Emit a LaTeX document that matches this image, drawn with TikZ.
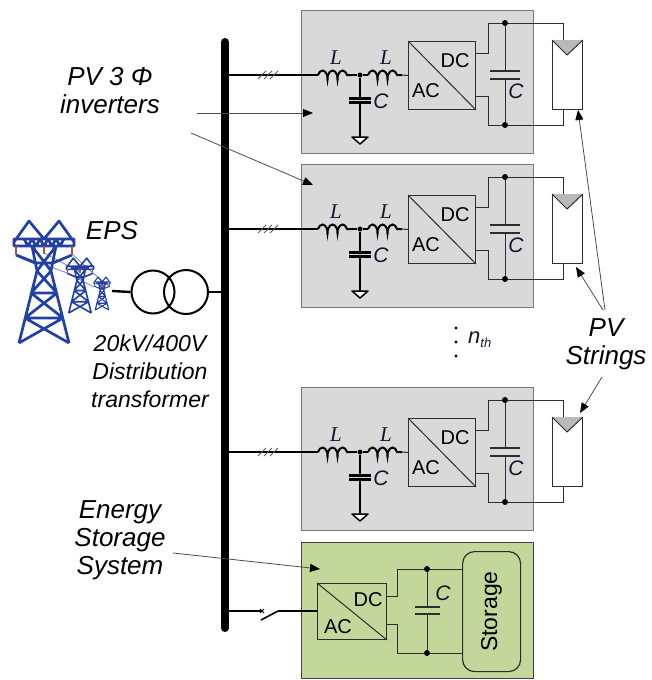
\documentclass[tikz,border=0pt]{standalone}
\usepackage{fontspec}
\setmainfont{Liberation Sans}
\newfontfamily\lserif{Liberation Serif}
\usetikzlibrary{arrows.meta,decorations.pathmorphing}

\definecolor{boxgray}{RGB}{217,217,217}
\definecolor{boxedge}{RGB}{120,120,120}
\definecolor{essgreen}{RGB}{196,215,155}
\definecolor{pylonblue}{RGB}{35,65,165}
\definecolor{insul}{RGB}{165,85,60}
\definecolor{wirecol}{RGB}{45,45,45}
\definecolor{labcol}{RGB}{20,20,45}

\tikzset{
  unitbox/.style={draw=boxedge, fill=boxgray, line width=1.2pt, inner sep=0pt, anchor=north west},
  essbox/.style={draw=black!75, fill=essgreen, line width=1.2pt, inner sep=0pt, anchor=north west},
  convbox/.style={draw=wirecol, line width=1pt, inner sep=0pt, anchor=north west},
  thin wire/.style={draw=wirecol, line width=1pt},
  acline/.style={draw=black, line width=2.4pt},
  inductor/.style={draw=black, line width=2pt, decorate,
    decoration={coil, aspect=0.45, amplitude=4.5pt, segment length=10pt}},
  dcplate/.style={draw=wirecol, line width=1.2pt},
  acplate/.style={draw=black, line width=3pt},
  junction/.style={circle, fill=black, inner sep=0pt, minimum size=6pt},
  callout/.style={draw=black!70, line width=0.8pt,
    -{Triangle[length=10pt,width=8pt,color=black]}},
  biglabel/.style={font=\fontsize{26}{28}\selectfont\itshape, align=center, inner sep=0pt},
  medlabel/.style={font=\fontsize{23}{28}\selectfont\itshape, align=center, inner sep=0pt},
  convtext/.style={font=\fontsize{20}{20}\selectfont, inner sep=0pt},
  capname/.style={font=\fontsize{21}{21}\selectfont\itshape, text=labcol, inner sep=0pt},
  indname/.style={font=\fontsize{21}{21}\selectfont\lserif\itshape, text=labcol, inner sep=0pt},
}

% a lattice transmission tower, base centre at #1,#2, scaled by #3, stroke #4
\newcommand\latticetower[4]{%
  \begin{scope}[shift={(#1,#2)}, scale=#3]
    \draw[pylonblue, line width=#4, line join=round]
      (-25,0) -- (-7,-72) -- (-12,-97)  (25,0) -- (7,-72) -- (12,-97)
      (-7,-72) -- (13,-50)  (7,-72) -- (-13,-50)
      (-13,-50) -- (13,-50)
      (-13,-50) -- (19,-25)  (13,-50) -- (-19,-25)
      (-19,-25) -- (19,-25)
      (-19,-25) -- (25,0)  (19,-25) -- (-25,0)
      (-12,-97) -- (7,-72)  (12,-97) -- (-7,-72)
      (-30,-104) rectangle (30,-97)
      (-30,-101) -- (-15,-122) -- (0,-104) -- (15,-122) -- (30,-101)
      (-28,-88) -- (-9,-80) -- (9,-80) -- (28,-88)
      (-20,-104) -- (-16,-97) -- (-12,-104) -- (-8,-97) -- (-4,-104) -- (0,-97)
      -- (4,-104) -- (8,-97) -- (12,-104) -- (16,-97) -- (20,-104);
    \draw[insul, line width=#4]
      (-28,-97) -- (-28,-88)  (0,-97) -- (0,-89)  (28,-97) -- (28,-88);
  \end{scope}}

\begin{document}
\begin{tikzpicture}[x=1pt, y=-1pt]
  \useasboundingbox (0,0) rectangle (651,680);

  % ---------------- PV inverter units ----------------
  \foreach \n/\dy in {1/0, 2/154, 3/377}{
    \begin{scope}[shift={(0,\dy)}]
      \node[unitbox, minimum width=232pt, minimum height=143pt] (box\n) at (301,10) {};
      \coordinate (tap\n) at (225,75);
      \coordinate (la\n) at (318,75);
      \coordinate (lb\n) at (353,75);
      \node[junction, minimum size=5pt] (j\n) at (360,75) {};
      \coordinate (lc\n) at (368,75);
      \coordinate (ld\n) at (402,75);
      \node[convbox, minimum width=67pt, minimum height=68pt] (cv\n) at (408,41) {};

      % three-phase feeder and LC filter
      \draw[acline] (tap\n) -- (la\n);
      \foreach \s in {-6,0,6}
        \draw[black!65, line width=0.9pt] (264+\s,79) -- (272+\s,71);
      \draw[inductor] (la\n) -- (lb\n);
      \draw[acline] (lb\n) -- (j\n) -- (lc\n);
      \draw[inductor] (lc\n) -- (ld\n);
      \draw[thin wire] (ld\n) -- (cv\n.west);
      \draw[acline] (j\n) -- (360,98) (360,102) -- (360,137);
      \draw[acplate] (349,98) -- (371,98) (349,102) -- (371,102);
      \draw[black, line width=1.5pt, fill=white, line join=round] (352,137) -- (368,137) -- (360,144) -- cycle;
      \node[indname] at (336,58) {L};
      \node[indname] at (386,58) {L};
      \node[capname] at (381,101) {C};

      % converter
      \draw[thin wire] (cv\n.north west) -- (cv\n.south east);
      \node[convtext] at (455,61) {DC};
      \node[convtext] at (426,91) {AC};

      % DC link
      \node[junction] (dt\n) at (505,23) {};
      \node[junction] (db\n) at (505,125) {};
      \node[draw=wirecol, fill=white, line width=1pt, inner sep=0pt, anchor=north west,
            minimum width=30pt, minimum height=69pt] (pv\n) at (552,40) {};
      \fill[gray!55] (pv\n.north west) -- (pv\n.north east) -- (567,55) -- cycle;
      \draw[thin wire] (pv\n.north west) -- (567,55) -- (pv\n.north east);
      \draw[thin wire] (475,53) -- (488,53) -- (488,23) -- (dt\n) -- (563,23) -- (563,40);
      \draw[thin wire] (475,96) -- (488,96) -- (488,125) -- (db\n) -- (563,125) -- (563,109);
      \draw[thin wire] (dt\n) -- (505,71) (505,79) -- (db\n);
      \draw[dcplate] (490,71) -- (520,71) (490,79) -- (520,79);
      \node[capname] at (516,91) {C};
    \end{scope}
  }

  % ---------------- energy storage unit ----------------
  \node[essbox, minimum width=232pt, minimum height=136pt] (ess) at (301,542) {};
  \node[convbox, minimum width=69pt, minimum height=56pt] (cvs) at (317,583) {};
  \draw[thin wire] (cvs.north west) -- (cvs.south east);
  \node[convtext] at (368,600) {DC};
  \node[convtext] at (338,627) {AC};
  \node[junction] (st) at (427,569) {};
  \node[junction] (sb) at (427,653) {};
  \node[draw=wirecol, line width=1.2pt, rounded corners=12pt, inner sep=0pt, anchor=north west,
        minimum width=58pt, minimum height=120pt] (stor) at (462,551) {};
  \node[rotate=90, font=\fontsize{23}{23}\selectfont, inner sep=0pt] at (stor.center) {Storage};
  \draw[thin wire] (386,596) -- (397,596) -- (397,569) -- (st) -- (stor.west |- st);
  \draw[thin wire] (386,624) -- (397,624) -- (397,653) -- (sb) -- (stor.west |- sb);
  \draw[thin wire] (st) -- (427,607) (427,614) -- (sb);
  \draw[dcplate] (415,607) -- (440,607) (415,614) -- (440,614);
  \node[capname] at (443,593) {C};

  % breaker on the storage feeder
  \coordinate (swa) at (262,611);
  \coordinate (swb) at (278,611);
  \draw[black, line width=1.6pt] (225,611) -- (swa);
  \draw[black, line width=0.8pt] (260,609) -- (264,613) (260,613) -- (264,609);
  \draw[black, line width=1.6pt] (261,620) -- (swb);
  \draw[black, line width=1.6pt] (swb) -- (cvs.west |- swb);

  % ---------------- bus bar ----------------
  \coordinate (busTop) at (225,42);
  \coordinate (busBot) at (225,628);
  \draw[black, line width=8pt, line cap=round] (busTop) -- (busBot);

  % ---------------- grid and transformer ----------------
  \draw[pylonblue!60, line width=0.9pt]
    (16,254) -- (67,273)  (44,253) -- (80,272)  (72,254) -- (93,273)
    (67,273) -- (94,287)  (93,273) -- (110,287);
  \latticetower{44}{343}{1}{2.7pt}
  \latticetower{80}{313}{0.45}{1.6pt}
  \latticetower{102}{310}{0.27}{1.1pt}
  \coordinate (grid) at (112,291);
  \node[draw, circle, line width=2pt, minimum size=43pt, inner sep=0pt] (tr1) at (153,292) {};
  \node[draw, circle, line width=2pt, minimum size=44pt, inner sep=0pt] (tr2) at (186,292) {};
  \draw[black, line width=2.4pt] (grid) -- (tr1.west);
  \draw[black, line width=2.4pt] (tr2.east) -- (busTop |- tr2.east);

  % ---------------- labels and callouts ----------------
  \node[biglabel] (invlab) at (110,91) {PV 3 Φ\\inverters};
  \coordinate (inva) at (197,113);
  \coordinate (invb) at (191,133);
  \draw[callout] (inva) -- (313,113);
  \draw[callout] (invb) -- (313,185);

  \node[biglabel] (eps) at (112,231) {EPS};
  \node[medlabel] (trlab) at (150,371) {20kV/400V\\Distribution\\transformer};

  \node[biglabel] (pvlab) at (606,344) {PV\\Strings};
  \coordinate (pvla) at (605,310);
  \coordinate (pvlb) at (603,310);
  \coordinate (pvlc) at (602,377);
  \draw[callout] (pvla) -- (pv1.south -| 578,0);
  \draw[callout] (pvlb) -- (576,267);
  \draw[callout] (pvlc) -- (580,413);

  \node[biglabel] (esslab) at (120,540) {Energy\\Storage\\System};
  \coordinate (essa) at (173,553);
  \draw[callout] (essa) -- (320,569);

  % n-th unit ellipsis
  \fill (456,328) circle (1.6pt) (456,342) circle (1.6pt) (456,356) circle (1.6pt);
  \node[font=\fontsize{22}{22}\selectfont\itshape, text=labcol, inner sep=0pt, anchor=west]
    at (468,340) {n\raisebox{-4pt}{\fontsize{13}{13}\selectfont th}};
\end{tikzpicture}
\end{document}
